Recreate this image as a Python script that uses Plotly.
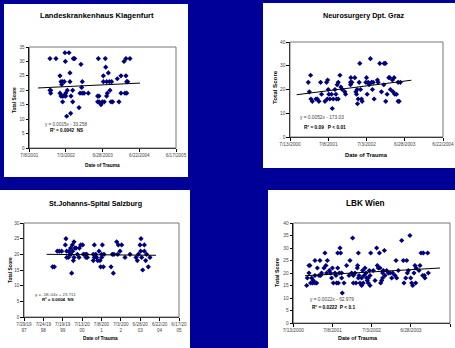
import plotly.graph_objects as go

W, H = 455, 348
BG = "#000099"
FONT = "Liberation Sans, Arial, sans-serif"

# ---------------- data (x = Excel serial dates) ----------------
x1 = [37283, 37342, 37283, 37290, 37290, 37381, 37391, 37407, 37398, 37381, 37391, 37407, 37420, 37407,
      37430, 37470, 37434, 37424, 37437, 37453, 37437, 37447, 37479, 37479, 37489, 37486, 37512, 37525,
      37506, 37506, 37568, 37587, 37600, 37594, 37578, 37600, 37617, 37659, 37758, 37751, 37764, 37751,
      37764, 37784, 37797, 37816, 37826, 37830, 37807, 37807, 37839, 37846, 37839, 37856, 37866, 37888,
      37872, 37882, 37898, 37944, 37960, 37980, 37980, 38010, 38029, 38068, 38029, 38036, 38046, 38019, 38036]
y1 = [31, 31, 20, 20, 19, 25, 23, 23, 22, 19, 18, 18, 18, 16, 33, 33, 30, 23, 19, 20, 18, 11, 26, 23,
      18, 12, 31, 31, 20, 16, 14, 29, 23, 21, 19, 19, 19, 19, 31, 18, 18, 16, 16, 15, 16, 16, 31, 28,
      25, 23, 23, 19, 18, 26, 23, 23, 20, 16, 16, 24, 16, 25, 19, 30, 31, 31, 25, 23, 23, 19, 19]
trend1_x = [37165, 38167]
trend1_y = [20.8, 22.5]

x2 = [36892, 36914, 36902, 36917, 36930, 36964, 36977, 36992, 37008, 37017, 37049, 37064, 37074, 37080,
      37071, 37086, 37096, 37111, 37118, 37127, 37143, 37152, 37158, 37174, 37164, 37174, 37190, 37199,
      37211, 37236, 37243, 37290, 37293, 37290, 37302, 37330, 37340, 37352, 37346, 37355, 37362, 37371,
      37377, 37384, 37393, 37399, 37434, 37440, 37446, 37456, 37465, 37477, 37487, 37496, 37503, 37512,
      37543, 37549, 37565, 37581, 37603, 37606, 37618, 37621, 37634, 37650, 37659, 37665, 37684, 37690,
      37700, 37706, 37722, 37737, 37747, 37737, 37759]
y2 = [23, 26, 19, 16, 15, 16, 16, 15, 23, 18, 15, 23, 24, 20, 16, 18, 16, 18, 12, 16, 20, 18, 16, 16,
      22, 23, 26, 21, 20, 19, 18, 23, 25, 22, 23, 25, 19, 20, 18, 14, 16, 23, 31, 20, 16, 15, 23, 25,
      18, 23, 22, 33, 23, 20, 23, 16, 24, 23, 31, 19, 22, 31, 31, 15, 18, 25, 25, 20, 24, 19, 25, 18,
      18, 15, 15, 23, 23]
trend2_x = [36783, 37862]
trend2_y = [17.8, 23.9]

x3 = [36173, 36204, 36259, 36297, 36340, 36408, 36420, 36433, 36433, 36464, 36476, 36495, 36507, 36513,
      36526, 36538, 36544, 36557, 36569, 36569, 36588, 36606, 36631, 36662, 36668, 36693, 36730, 36743,
      36774, 36792, 36817, 36805, 36947, 36928, 36947, 36928, 36972, 36990, 37009, 37034, 37052, 37065,
      37083, 37096, 37083, 37114, 37127, 37257, 37281, 37300, 37312, 37362, 37393, 37381, 37424, 37455,
      37517, 37610, 37721, 37746, 37765, 37796, 37808, 37814, 37827, 37845, 37876, 37876, 37901, 37919,
      37950, 37981]
y3 = [16, 16, 21, 21, 21, 23, 25, 21, 19, 19, 21, 20, 22, 20, 14, 23, 21, 18, 24, 19, 22, 22, 20, 19,
      22, 23, 23, 20, 20, 19, 19, 20, 23, 20, 19, 18, 20, 19, 18, 21, 18, 16, 20, 23, 19, 16, 20, 16,
      20, 14, 20, 24, 23, 20, 21, 23, 19, 20, 19, 18, 20, 23, 21, 25, 19, 15, 21, 23, 18, 20, 16, 19]
trend3_x = [36061, 38093]
trend3_y = [20.0, 19.7]

x4 = [36843, 36849, 36864, 36873, 36864, 36879, 36889, 36898, 36904, 36919, 36919, 36919, 36935, 36941,
      36956, 36965, 36971, 36980, 37002, 37011, 37020, 37026, 37033, 37051, 37063, 37079, 37072, 37088,
      37103, 37112, 37118, 37128, 37128, 37134, 37143, 37149, 37155, 37164, 37164, 37170, 37186, 37210,
      37232, 37241, 37256, 37265, 37272, 37272, 37287, 37296, 37308, 37311, 37318, 37318, 37324, 37333,
      37348, 37348, 37357, 37363, 37370, 37379, 37388, 37394, 37400, 37409, 37409, 37419, 37425, 37425,
      37431, 37455, 37471, 37486, 37492, 37501, 37511, 37517, 37523, 37532, 37541, 37541, 37547, 37557,
      37563, 37578, 37593, 37609, 37624, 37633, 37655, 37664, 37670, 37685, 37716, 37731, 37737, 37753,
      37762, 37768, 37777, 37792, 37799, 37808, 37817, 37829, 37838, 37848, 37845, 37875, 37884, 37894,
      37909, 37915, 37924, 37930, 37955, 37961]
y4 = [15, 18, 23, 23, 20, 16, 18, 16, 17, 25, 19, 16, 16, 22, 19, 25, 19, 20, 22, 28, 23, 20, 25, 21,
      20, 22, 18, 16, 20, 19, 16, 28, 22, 16, 20, 30, 28, 18, 20, 12, 16, 23, 19, 25, 20, 34, 19, 16,
      20, 16, 22, 23, 28, 18, 19, 16, 18, 15, 21, 16, 19, 22, 20, 18, 17, 18, 16, 21, 15, 19, 28, 21,
      17, 30, 23, 22, 28, 22, 16, 17, 18, 20, 21, 29, 19, 21, 20, 20, 18, 20, 19, 25, 18, 21, 33, 25,
      16, 18, 25, 20, 21, 35, 18, 16, 15, 20, 23, 22, 16, 21, 23, 28, 19, 28, 19, 18, 28, 20]
trend4_x = [36827, 38068]
trend4_y = [18.9, 22.0]

ticks_a = [37080, 37440, 37800, 38160, 38520]
ticktext_a = ["7/8/2001", "7/3/2002", "6/28/2003", "6/22/2004", "6/17/2005"]
ticks_b = [36720, 37080, 37440, 37800, 38160]
ticktext_b = ["7/13/2000", "7/8/2001", "7/3/2002", "6/28/2003", "6/22/2004"]
ticks_c = [35640, 36000, 36360, 36720, 37080, 37440, 37800, 38160, 38520]
ticktext_c = ["7/29/19<br>97", "7/24/19<br>98", "7/19/19<br>99", "7/13/20<br>00", "7/8/200<br>1",
              "7/3/200<br>2", "6/28/20<br>03", "6/22/20<br>04", "6/17/20<br>05"]

titles = ["Landeskrankenhaus Klagenfurt", "Neurosurgery Dpt. Graz", "St.Johanns-Spital Salzburg", "LBK Wien"]
equations = ["y = 0.0015x - 33.258", "y = 0.0052x - 173.03", "y = -1E-04x + 23.711", "y = 0.0022x - 62.979"]
r2_texts = ["R² = 0.0042  NS", "R² = 0.09   P < 0.01", "R² = 0.0004  NS", "R² = 0.0222  P < 0.1"]

# ---------------- layout geometry (pixels) ----------------
def px(x):
    return x / W

def py(y):
    return 1 - y / H

panels = [  # white card rectangles
    (4, 4, 188, 177), (263, 3, 455, 168), (0, 190, 190, 348), (268, 190, 455, 348)]
areas = [  # plot areas (x0, y0, x1, y1)
    (29.3, 47, 176, 148), (290, 42, 443, 137), (24, 223, 179, 317), (293.3, 223, 450, 323)]

fig = go.Figure()
series = [(x1, y1, trend1_x, trend1_y), (x2, y2, trend2_x, trend2_y),
          (x3, y3, trend3_x, trend3_y), (x4, y4, trend4_x, trend4_y)]
xranges = [[37080, 38520], [36720, 38160], [35640, 38520], [36720, 38160]]
yranges = [[0, 35], [0, 40], [0, 30], [0, 40]]
ydticks = [5, 10, 5, 5]
xticks = [(ticks_a, ticktext_a), (ticks_b, ticktext_b), (ticks_c, ticktext_c), (ticks_b, ticktext_b)]
tickfs = [4.6, 4.8, 4.6, 4.8]

shapes = []
for (a, b, c, d) in panels:
    shapes.append(dict(type="rect", xref="paper", yref="paper", x0=px(a), x1=px(c), y0=py(d), y1=py(b),
                       fillcolor="white", line=dict(width=0), layer="below"))

for i, (xs, ys, tx, ty) in enumerate(series):
    n = "" if i == 0 else str(i + 1)
    fig.add_trace(go.Scatter(x=xs, y=ys, mode="markers", xaxis="x" + n, yaxis="y" + n,
                             marker=dict(symbol="diamond", size=4.0, color="#00007a",
                                         line=dict(width=0)), showlegend=False))
    fig.add_trace(go.Scatter(x=tx, y=ty, mode="lines", xaxis="x" + n, yaxis="y" + n,
                             line=dict(color="black", width=1), showlegend=False))
    a, b, c, d = areas[i]
    common = dict(showgrid=False, zeroline=False, showline=True, linecolor="black", linewidth=1.2,
                  ticks="outside", ticklen=2.5, tickwidth=1, tickcolor="black", automargin=False,
                  tickfont=dict(family=FONT, size=tickfs[i], color="#444"))
    fig.update_layout(**{
        "xaxis" + n: dict(domain=[px(a), px(c)], range=xranges[i], tickmode="array",
                          tickvals=xticks[i][0], ticktext=xticks[i][1], anchor="y" + n, **common),
        "yaxis" + n: dict(domain=[py(d), py(b)], range=yranges[i], dtick=ydticks[i], tick0=0,
                          anchor="x" + n, **common),
    })
    shapes.append(dict(type="rect", xref="paper", yref="paper", x0=px(a), x1=px(c), y0=py(d), y1=py(b),
                       line=dict(color="#777", width=1), fillcolor="rgba(0,0,0,0)", layer="above"))

ann = []

def add(text, x, y, size, bold=False, xanchor="center", angle=0, color="black"):
    t = "<b>%s</b>" % text if bold else text
    ann.append(dict(text=t, x=px(x), y=py(y), xref="paper", yref="paper", showarrow=False,
                    xanchor=xanchor, yanchor="middle", textangle=angle,
                    font=dict(family=FONT, size=size, color=color)))

title_pos = [(97, 15, 7.6), (363, 15, 7.2), (95, 203, 7.2), (365, 203, 8.2)]
ytitle_pos = [(14, 100, 4.8), (274, 87, 6.2), (10, 270, 4.8), (277, 273, 5.4)]
xtitle_pos = [(102, 165, 4.8), (366, 155, 5.8), (100, 338, 4.8), (358, 338, 5.4)]
eq_pos = [(43, 124, 48, 131, 4.6), (298, 118, 302, 127, 4.8), (33, 294, 40, 299, 4.4), (308, 299, 310, 307, 4.8)]

for i in range(4):
    tx_, ty_, ts = title_pos[i]
    add(titles[i], tx_, ty_, ts, bold=True)
    yx, yy, ys_ = ytitle_pos[i]
    add("Total Score", yx, yy, ys_, bold=True, angle=-90)
    xx, xy, xs_ = xtitle_pos[i]
    add("Date of Trauma", xx, xy, xs_, bold=True)
    ex, ey, rx, ry, es = eq_pos[i]
    add(equations[i], ex, ey, es, xanchor="left", color="#444")
    add(r2_texts[i], rx, ry, es, bold=True, xanchor="left")

fig.update_layout(width=W, height=H, margin=dict(l=0, r=0, t=0, b=0, autoexpand=False),
                  paper_bgcolor=BG, plot_bgcolor="white", shapes=shapes, annotations=ann,
                  showlegend=False, hovermode=False)

fig.write_html("out.html", config={"displayModeBar": False, "staticPlot": True},
               post_script="document.body.style.margin='0';document.body.style.background='%s';" % BG)
